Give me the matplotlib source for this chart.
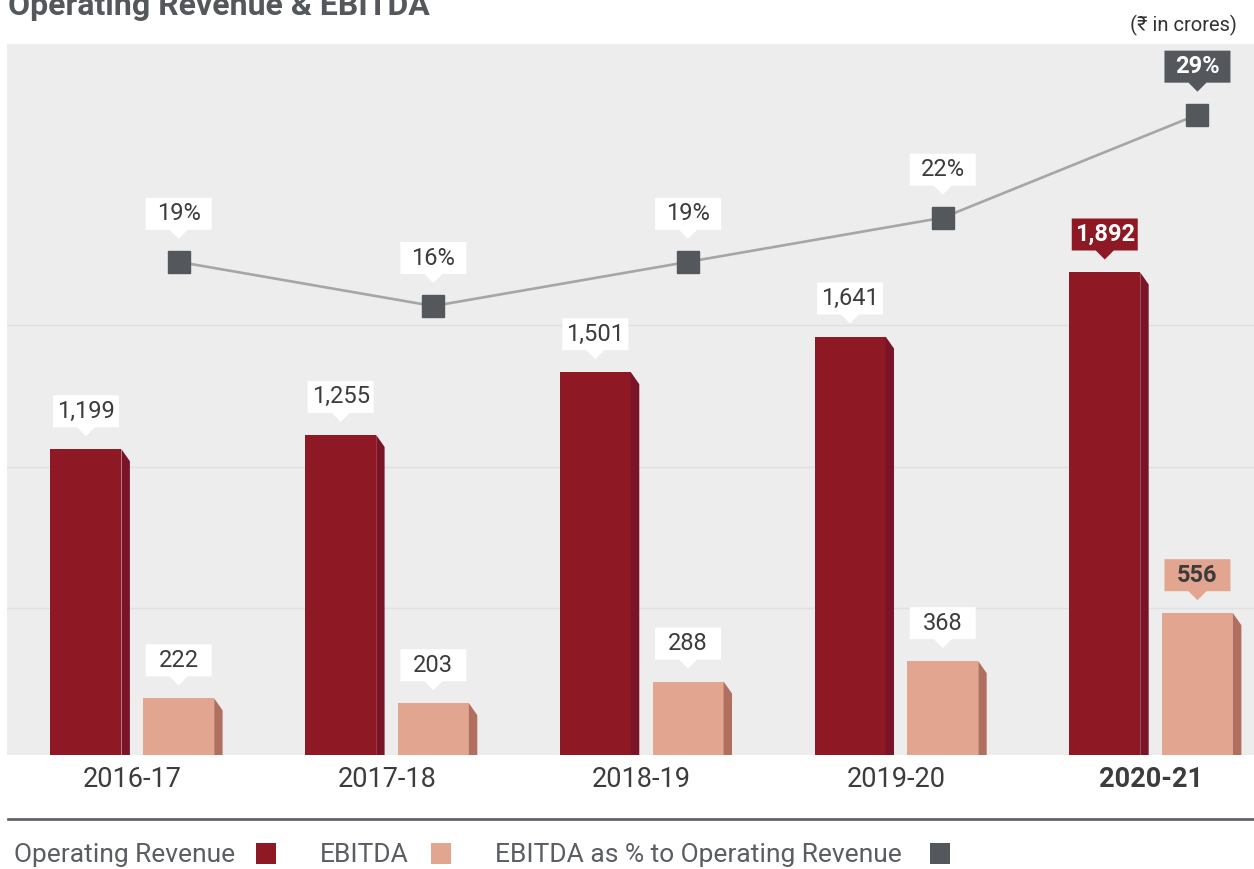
import matplotlib
matplotlib.use("Agg")
import matplotlib.pyplot as plt
import matplotlib.patches as mpatches
import matplotlib.transforms as mtrans
import matplotlib.lines as mlines
import numpy as np

plt.rcParams['font.family'] = ['Roboto', 'DejaVu Sans']

# ---- data ----
years = ["2016-17", "2017-18", "2018-19", "2019-20", "2020-21"]
revenue = [1199, 1255, 1501, 1641, 1892]
ebitda = [222, 203, 288, 368, 556]
margin_pct = [19, 16, 19, 22, 29]

# ---- style ----
C_REV = "#8E1823"
C_REV_SIDE = "#7A1429"
C_EBT = "#E2A58F"
C_EBT_SIDE = "#B1705F"
C_MARK = "#54575C"
C_LINE = "#A6A6A6"
C_BG = "#EDEDED"
C_TXT = "#3C3C3C"

W, H = 1254, 869
fig = plt.figure(figsize=(W / 100, H / 100), dpi=100)
fig.patch.set_facecolor("white")

ax_left, ax_right, ax_top, ax_bot = 7, 1254, 44, 755
ax = fig.add_axes([ax_left / W, 1 - ax_bot / H, (ax_right - ax_left) / W, (ax_bot - ax_top) / H])
ax.set_facecolor(C_BG)
ax.set_xlim(-0.492, 4.404)
ax.set_ylim(0, 2788)
for s in ax.spines.values():
    s.set_visible(False)
ax.set_yticks([576, 1129, 1686])
ax.set_yticklabels([])
ax.yaxis.grid(True, color="#E0E0E0", linewidth=1.0)
ax.set_axisbelow(True)
ax.tick_params(axis="both", length=0)

x = np.arange(len(years))
off = 0.182
bw = 0.279
side_w = 0.033
side_dy = 47

ax.bar(x - off, revenue, width=bw, color=C_REV, zorder=3)
ax.bar(x + off, ebitda, width=bw, color=C_EBT, zorder=3)
for xi, r, e in zip(x, revenue, ebitda):
    for cx, v, col in ((xi - off, r, C_REV_SIDE), (xi + off, e, C_EBT_SIDE)):
        xr = cx + bw / 2
        poly = mpatches.Polygon([(xr, v), (xr + side_w, v - side_dy), (xr + side_w, 0), (xr, 0)],
                                closed=True, facecolor=col, edgecolor="none", zorder=3)
        ax.add_patch(poly)

ax.set_xticks(x)
ax.set_xticklabels(years, fontsize=19.5, color=C_TXT)
ax.tick_params(axis="x", pad=8)
ax.get_xticklabels()[-1].set_fontweight("bold")

# percentage line on twin axis
ax2 = ax.twinx()
ax2.set_ylim(-14.5, 33.8)
ax2.set_xlim(ax.get_xlim())
ax2.axis("off")
ax2.plot(x + off, margin_pct, color=C_LINE, linewidth=1.9, zorder=4)
ax2.plot(x + off, margin_pct, linestyle="none", marker="s", markersize=15.6,
         color=C_MARK, zorder=5)

# ---- callout labels (drawn in display pixels) ----
ident = mtrans.IdentityTransform()
BOX_W, BOX_H, TIP_H, TIP_W = 66, 32, 9, 9


def callout(cx, tip_y, text, fc, tc, weight="normal"):
    by = tip_y + TIP_H
    pts = [(cx - BOX_W / 2, by), (cx - TIP_W, by), (cx, tip_y), (cx + TIP_W, by),
           (cx + BOX_W / 2, by), (cx + BOX_W / 2, by + BOX_H), (cx - BOX_W / 2, by + BOX_H)]
    fig.add_artist(mpatches.Polygon(pts, closed=True, facecolor=fc, edgecolor="none",
                                    transform=ident, zorder=6))
    fig.text(cx, by + BOX_H / 2, text, transform=ident, ha="center", va="center",
             fontsize=17, color=tc, fontweight=weight, zorder=7)


fig.canvas.draw()
n = len(years)
for i in range(n):
    last = i == n - 1
    # revenue
    px, py = ax.transData.transform((x[i] - off, revenue[i]))
    callout(px, py + 13, f"{revenue[i]:,}", C_REV if last else "white",
            "white" if last else C_TXT, "bold" if last else "normal")
    # ebitda
    px, py = ax.transData.transform((x[i] + off, ebitda[i]))
    callout(px, py + 13, f"{ebitda[i]:,}", C_EBT if last else "white",
            C_TXT, "bold" if last else "normal")
    # percent
    px, py = ax2.transData.transform((x[i] + off, margin_pct[i]))
    callout(px, py + 23, f"{margin_pct[i]}%", C_MARK if last else "white",
            "white" if last else C_TXT, "bold" if last else "normal")

# ---- title and unit ----
fig.text(8, H - 15, "Operating Revenue & EBITDA", transform=ident, ha="left", va="baseline",
         fontsize=23, fontweight="bold", color=C_MARK)
fig.text(1237, H - 31, "(\u20b9 in crores)", transform=ident, ha="right", va="baseline",
         fontsize=14.5, color="#333333")

# ---- bottom rule ----
fig.add_artist(mlines.Line2D([8, 1254], [H - 819, H - 819], transform=ident,
                             color="#5A5D62", linewidth=1.9))

# ---- legend ----
legend_items = [("Operating Revenue", C_REV, 14, 256),
                ("EBITDA", C_EBT, 320, 431),
                ("EBITDA as % to Operating Revenue", C_MARK, 495, 930)]
for label, col, tx, sx in legend_items:
    fig.text(tx, H - 862, label, transform=ident, ha="left", va="baseline",
             fontsize=19, color="#5A5D62")
    fig.add_artist(mpatches.Rectangle((sx, H - 864), 20, 21, transform=ident,
                                      facecolor=col, edgecolor="none"))

fig.savefig("out.png", dpi=100)
